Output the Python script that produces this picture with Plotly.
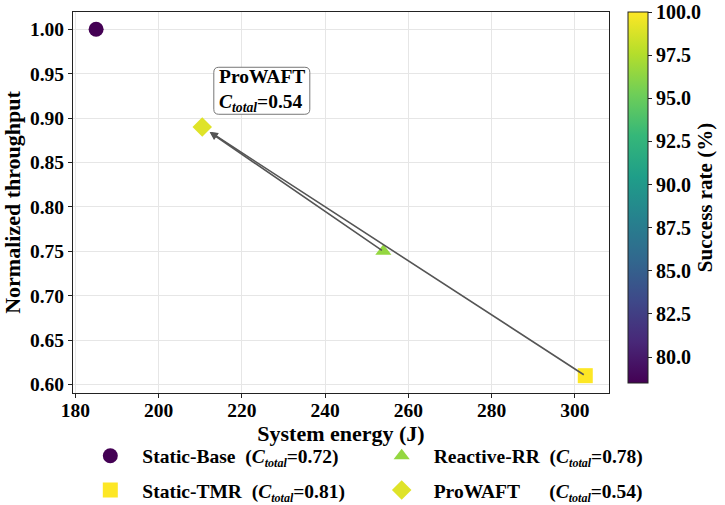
import plotly.graph_objects as go

methods = ["Static-Base", "Reactive-RR", "Static-TMR", "ProWAFT"]
energy = [185.0, 254.0, 302.5, 210.5]
throughput = [1.00, 0.75, 0.61, 0.89]
success = [78.5, 96.5, 100.0, 99.0]
c_total = [0.72, 0.78, 0.81, 0.54]
symbols = ["circle", "triangle-up", "square", "diamond"]
sizes = [15, 14, 15, 15]
pads = ["\u00a0\u00a0", "\u00a0\u00a0", "\u00a0\u00a0", "\u00a0\u00a0\u00a0\u00a0\u00a0\u00a0"]
legend_ids = ["legend", "legend2", "legend", "legend2"]

x_ticks = [180, 200, 220, 240, 260, 280, 300]
y_ticks = [0.60, 0.65, 0.70, 0.75, 0.80, 0.85, 0.90, 0.95, 1.00]
cb_ticks = [80.0, 82.5, 85.0, 87.5, 90.0, 92.5, 95.0, 97.5, 100.0]

FONT = "Liberation Serif"
CMIN, CMAX = 78.5, 100.0
FS = 19.5

fig = go.Figure()
for i, m in enumerate(methods):
    label = (f"{m}{pads[i]}(<i>C</i><sub><span style=\"font-size:12px\"><i>total</i></span></sub>"
             f"={c_total[i]:.2f})")
    fig.add_trace(go.Scatter(
        x=[energy[i]], y=[throughput[i]], mode="markers", name=label,
        legend=legend_ids[i], legendgroup=m,
        marker=dict(symbol=symbols[i], size=sizes[i], color=[success[i]],
                    colorscale="Viridis", cmin=CMIN, cmax=CMAX,
                    line=dict(width=0),
                    showscale=(i == 0),
                    colorbar=dict(
                        x=1.0354, xanchor="left", y=1.0, yanchor="top",
                        len=0.975, lenmode="fraction", thickness=20,
                        thicknessmode="pixels", xpad=0, ypad=0,
                        outlinewidth=1, outlinecolor="#222",
                        ticks="outside", ticklen=4, tickcolor="#222",
                        tickvals=cb_ticks, ticktext=[f"{v:.1f}" for v in cb_ticks],
                        tickfont=dict(family=FONT, size=20, color="black", weight="bold"),
                        title=dict(text="Success rate (%)", side="right",
                                   font=dict(family=FONT, size=21, color="black", weight="bold")),
                    )),
        showlegend=True,
    ))

# arrows toward ProWAFT
pi = methods.index("ProWAFT")
for src in ["Static-TMR", "Reactive-RR"]:
    si = methods.index(src)
    fig.add_annotation(
        x=energy[pi], y=throughput[pi], ax=energy[si], ay=throughput[si],
        xref="x", yref="y", axref="x", ayref="y", text="",
        showarrow=True, arrowhead=2, arrowsize=1, arrowwidth=1.6,
        arrowcolor="#555555", standoff=9,
    )

# label box
box_x, box_y = 224.8, 0.9308
fig.add_shape(
    type="path", xref="x", yref="y", xsizemode="pixel", ysizemode="pixel",
    xanchor=box_x, yanchor=box_y,
    path="M -43,23.5 L 43,23.5 Q 48,23.5 48,18.5 L 48,-18.5 Q 48,-23.5 43,-23.5 "
         "L -43,-23.5 Q -48,-23.5 -48,-18.5 L -48,18.5 Q -48,23.5 -43,23.5 Z",
    fillcolor="white", line=dict(color="#777777", width=1), layer="above",
)
fig.add_annotation(
    x=box_x, y=box_y, xref="x", yref="y", showarrow=False,
    text="ProWAFT<br><i>C</i><sub><i>total</i></sub>=0.54", align="left",
    xanchor="center", yanchor="middle",
    font=dict(family=FONT, size=FS, color="black", weight="bold"),
)

axis_common = dict(
    showline=True, linecolor="#222", linewidth=1, mirror=True,
    ticks="outside", ticklen=4, tickcolor="#222",
    showgrid=True, gridcolor="#e6e6e6", gridwidth=1, zeroline=False,
    tickfont=dict(family=FONT, size=FS, color="black", weight="bold"),
)

leg_common = dict(xanchor="left", y=-0.1144, yanchor="top",
                  orientation="v", itemwidth=54, tracegroupgap=6,
                  bgcolor="rgba(0,0,0,0)",
                  font=dict(family=FONT, size=FS, color="black", weight="bold"))

fig.update_layout(
    width=725, height=505,
    margin=dict(l=73, r=116, t=12, b=112, autoexpand=False),
    paper_bgcolor="white", plot_bgcolor="white",
    font=dict(family=FONT, size=FS, color="black", weight="bold"),
    xaxis=dict(range=[179.45, 308.2], tickvals=x_ticks, ticklabelstandoff=-4,
               title=dict(text="System energy (J)", standoff=2,
                          font=dict(family=FONT, size=22, weight="bold")),
               **axis_common),
    yaxis=dict(range=[0.5905, 1.0195], tickvals=y_ticks, tickformat=".2f",
               title=dict(text="Normalized throughput", standoff=8,
                          font=dict(family=FONT, size=22, weight="bold")),
               **axis_common),
    legend=dict(x=0.0099, **leg_common),
    legend2=dict(x=0.5535, **leg_common),
)

fig.write_html("out.html")
